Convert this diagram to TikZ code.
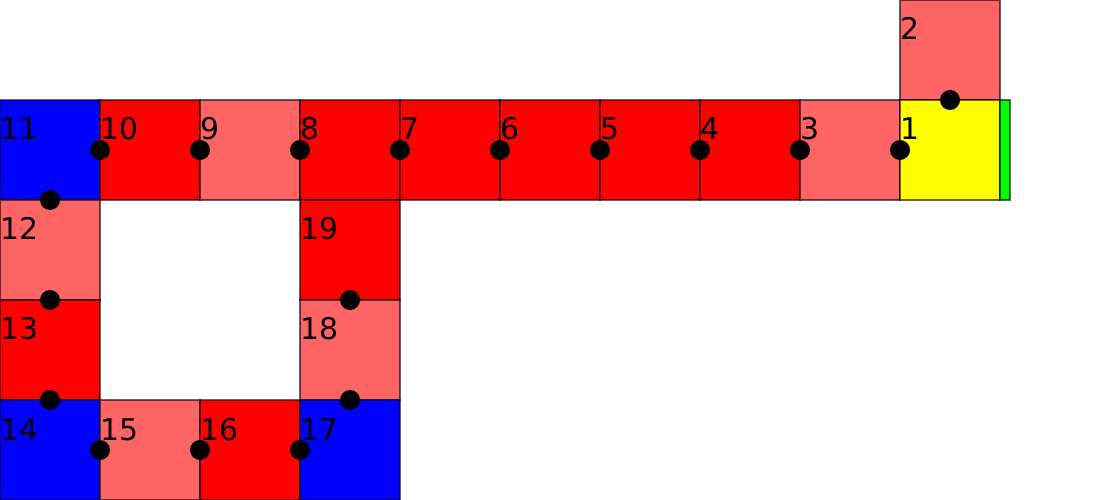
\documentclass[tikz,border=0pt]{standalone}
\usepackage{fontspec}
\setmainfont{DejaVu Sans}
\usepackage{tikz}
\usetikzlibrary{positioning}
\usepackage{xcolor}
\definecolor{cellRed}{HTML}{FF0000}
\definecolor{cellPink}{HTML}{FF6464}
\definecolor{cellBlue}{HTML}{0000FF}
\definecolor{cellYellow}{HTML}{FFFF00}
\definecolor{cellGreen}{HTML}{00FF00}

\begin{document}
\begin{tikzpicture}[
  cell/.style={draw=black,draw opacity=0.6,line width=0.6pt,minimum size=2cm,inner sep=0pt,outer sep=0pt},
  num/.style={anchor=base west,inner sep=0pt,yshift=-0.8cm,font=\fontsize{17}{20}\selectfont},
  dot/.style={circle,fill=black,minimum size=0.4cm,inner sep=0pt}]
  \useasboundingbox (0,0) rectangle (22,-10);
  \node[cell,fill=cellPink] (c2) at (19,-1) {};
  \node[cell,fill=cellBlue] (c11) at (1,-3) {};
  \node[cell,fill=cellRed] (c10) at (3,-3) {};
  \node[cell,fill=cellPink] (c9) at (5,-3) {};
  \node[cell,fill=cellRed] (c8) at (7,-3) {};
  \node[cell,fill=cellRed] (c7) at (9,-3) {};
  \node[cell,fill=cellRed] (c6) at (11,-3) {};
  \node[cell,fill=cellRed] (c5) at (13,-3) {};
  \node[cell,fill=cellRed] (c4) at (15,-3) {};
  \node[cell,fill=cellPink] (c3) at (17,-3) {};
  \node[cell,fill=cellYellow] (c1) at (19,-3) {};
  \node[cell,fill=cellGreen,minimum width=0.2cm,anchor=west] (end) at (c1.east) {};
  \node[cell,fill=cellPink] (c12) at (1,-5) {};
  \node[cell,fill=cellRed] (c19) at (7,-5) {};
  \node[cell,fill=cellRed] (c13) at (1,-7) {};
  \node[cell,fill=cellPink] (c18) at (7,-7) {};
  \node[cell,fill=cellBlue] (c14) at (1,-9) {};
  \node[cell,fill=cellPink] (c15) at (3,-9) {};
  \node[cell,fill=cellRed] (c16) at (5,-9) {};
  \node[cell,fill=cellBlue] (c17) at (7,-9) {};

  \node[num] (l1) at (c1.north west) {1};
  \node[num] (l2) at (c2.north west) {2};
  \node[num] (l3) at (c3.north west) {3};
  \node[num] (l4) at (c4.north west) {4};
  \node[num] (l5) at (c5.north west) {5};
  \node[num] (l6) at (c6.north west) {6};
  \node[num] (l7) at (c7.north west) {7};
  \node[num] (l8) at (c8.north west) {8};
  \node[num] (l9) at (c9.north west) {9};
  \node[num] (l10) at (c10.north west) {10};
  \node[num] (l11) at (c11.north west) {11};
  \node[num] (l12) at (c12.north west) {12};
  \node[num] (l13) at (c13.north west) {13};
  \node[num] (l14) at (c14.north west) {14};
  \node[num] (l15) at (c15.north west) {15};
  \node[num] (l16) at (c16.north west) {16};
  \node[num] (l17) at (c17.north west) {17};
  \node[num] (l18) at (c18.north west) {18};
  \node[num] (l19) at (c19.north west) {19};

  \node[dot] (d2) at (c1.north) {};
  \node[dot] (d1) at (c1.west) {};
  \node[dot] (d3) at (c3.west) {};
  \node[dot] (d4) at (c4.west) {};
  \node[dot] (d5) at (c5.west) {};
  \node[dot] (d6) at (c6.west) {};
  \node[dot] (d7) at (c7.west) {};
  \node[dot] (d8) at (c8.west) {};
  \node[dot] (d9) at (c9.west) {};
  \node[dot] (d10) at (c10.west) {};
  \node[dot] (d11) at (c11.south) {};
  \node[dot] (d12) at (c12.south) {};
  \node[dot] (d13) at (c13.south) {};
  \node[dot] (d14) at (c15.west) {};
  \node[dot] (d15) at (c16.west) {};
  \node[dot] (d16) at (c17.west) {};
  \node[dot] (d17) at (c18.south) {};
  \node[dot] (d18) at (c19.south) {};
\end{tikzpicture}
\end{document}
